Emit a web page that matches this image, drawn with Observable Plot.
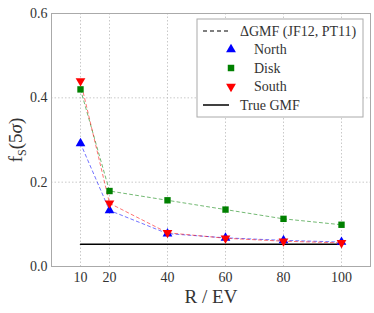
<!DOCTYPE html>
<html><head><meta charset="utf-8">
<script src="https://cdn.jsdelivr.net/npm/d3@7"></script>
<script src="https://cdn.jsdelivr.net/npm/@observablehq/plot@0.6"></script>
<style>
body{margin:0;background:#fff}
#c{position:relative;width:374px;height:313px}
#c svg text, #c svg tspan { font-family: "Liberation Serif", serif !important; }
#c svg .lg text { text-anchor: start; }
</style>
</head><body><div id="c"></div>
<script>
const R = [10, 20, 40, 60, 80, 100];
const north = [0.292, 0.133, 0.078, 0.068, 0.062, 0.058];
const disk = [0.420, 0.179, 0.157, 0.135, 0.113, 0.099];
const south = [0.440, 0.150, 0.080, 0.067, 0.060, 0.056];
const trueGMF = [0.053, 0.053];
const trueR = [10, 100];
const xTicks = [10, 20, 40, 60, 80, 100];
const yTicks = [0, 0.2, 0.4, 0.6];

const series = [
  {name: "North", vals: north, color: "#0000ff", symbol: "triangle", rotate: 0},
  {name: "Disk", vals: disk, color: "#008000", symbol: "square", rotate: 0},
  {name: "South", vals: south, color: "#ff0000", symbol: "triangle", rotate: 180}
];
const rows = series.flatMap(s => R.map((r, i) => ({r, v: s.vals[i], name: s.name})));
const trueRows = trueR.map((r, i) => ({r, v: trueGMF[i]}));

const font = "'Liberation Serif', serif";
const chart = Plot.plot({
  width: 374, height: 313,
  marginLeft: 51, marginRight: 4, marginTop: 13, marginBottom: 47,
  style: {fontFamily: font, fontSize: "14px", color: "#333", background: "#fff"},
  x: {domain: [0, 110], ticks: xTicks, tickSize: 0, label: null, tickPadding: 6},
  y: {domain: [0, 0.6], ticks: yTicks, tickFormat: d3.format(".1f"), tickSize: 0, label: null, tickPadding: 4},
  marks: [
    Plot.gridX(xTicks, {stroke: "#bbb", strokeOpacity: 1, strokeDasharray: "1.5,2", strokeWidth: 0.8}),
    Plot.gridY(yTicks.slice(1, 3), {stroke: "#bbb", strokeOpacity: 1, strokeDasharray: "1.5,2", strokeWidth: 0.8}),
    Plot.frame({stroke: "#aaa", strokeWidth: 1}),
    Plot.line(trueRows, {x: "r", y: "v", stroke: "#000", strokeWidth: 1.5}),
    ...series.map(s => Plot.line(rows.filter(d => d.name === s.name), {x: "r", y: "v", stroke: s.color, strokeOpacity: 0.55, strokeWidth: 1, strokeDasharray: "3,3"})),
    ...series.map(s => Plot.dot(rows.filter(d => d.name === s.name), {x: "r", y: "v", fill: s.color, symbol: s.symbol, rotate: s.rotate, r: 3.6, stroke: "none"})),
    Plot.axisX({ticks: xTicks, tickSize: 0, tickPadding: 6, fontSize: 14, label: null}),
    Plot.axisY({ticks: yTicks, tickFormat: d3.format(".1f"), tickSize: 0, tickPadding: 4, fontSize: 14, label: null})
  ]
});
const c = document.getElementById("c");
c.appendChild(chart);

const svg = d3.select(chart);
svg.append("text").attr("x", 211).attr("y", 303).attr("text-anchor", "middle")
  .attr("font-size", 19).attr("fill", "#333").text("R / EV");
const yl = svg.append("text").attr("transform", "translate(22,140) rotate(-90)").attr("text-anchor", "middle")
  .attr("font-size", 19).attr("fill", "#333");
yl.append("tspan").text("f");
yl.append("tspan").attr("font-size", 12).attr("dy", 4).text("S");
yl.append("tspan").attr("dy", -4).text("(5");
yl.append("tspan").attr("font-style", "italic").text("σ");
yl.append("tspan").text(")");

const lg = svg.append("g").attr("class", "lg").attr("text-anchor", "start");
lg.append("rect").attr("x", 197).attr("y", 19).attr("width", 166).attr("height", 98)
  .attr("fill", "#fff").attr("stroke", "#aaa").attr("stroke-width", 1);
const entries = [
  {label: "ΔGMF (JF12, PT11)", type: "dash"},
  {label: "North", type: "sym", s: series[0]},
  {label: "Disk", type: "sym", s: series[1]},
  {label: "South", type: "sym", s: series[2]},
  {label: "True GMF", type: "line"}
];
entries.forEach((e, i) => {
  const y = 31 + i * 18.5;
  if (e.type === "dash") {
    lg.append("line").attr("x1", 203).attr("x2", 229).attr("y1", y).attr("y2", y).attr("stroke", "#000").attr("stroke-width", 1.2).attr("stroke-dasharray", "4,3");
  } else if (e.type === "line") {
    lg.append("line").attr("x1", 203).attr("x2", 229).attr("y1", y).attr("y2", y).attr("stroke", "#000").attr("stroke-width", 1.5);
  } else {
    const sym = e.s.symbol === "square" ? d3.symbolSquare : d3.symbolTriangle;
    lg.append("path").attr("d", d3.symbol(sym, 42)()).attr("fill", e.s.color)
      .attr("transform", `translate(231,${y}) rotate(${e.s.rotate})`);
  }
  const tx = e.type === "sym" ? 254 : 240;
  lg.append("text").attr("x", tx).attr("y", y).attr("dy", "0.35em").attr("text-anchor", "start")
    .attr("font-size", 14).attr("fill", "#333").text(e.label);
});
</script></body></html>
